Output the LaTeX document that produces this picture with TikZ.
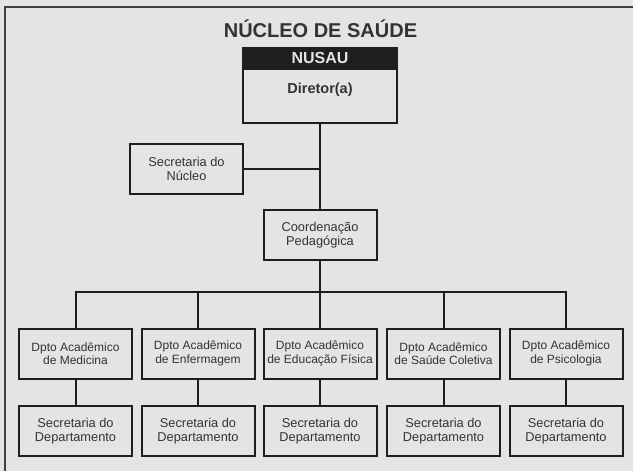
\documentclass[tikz,border=0pt]{standalone}
\usepackage{fontspec}
\setmainfont{Liberation Sans}
\usepackage[svgnames]{xcolor}
\usepackage{tikz}
\usetikzlibrary{arrows}
\pgfdeclarelayer{bglayer}
\pgfdeclarelayer{edgelayer}
\pgfdeclarelayer{nodelayer}
\pgfsetlayers{bglayer,edgelayer,nodelayer,main}
\definecolor{paper}{HTML}{E4E4E4}
\definecolor{ink}{HTML}{1E1E1E}
\definecolor{letter}{HTML}{333333}
\tikzset{
	box/.style={rectangle, draw=ink, line width=2pt, fill=paper, text=letter, align=center, inner sep=2pt,
		minimum width=113pt, minimum height=50pt, font=\fontsize{12.8}{14}\selectfont},
	dept/.style={box, font=\fontsize{12}{13.3}\selectfont},
	chief/.style={box, minimum width=154pt, minimum height=75pt},
	band/.style={chief, fill=ink, text=paper, minimum height=21pt, font=\fontsize{16}{18}\selectfont\bfseries},
	caption/.style={text=letter, inner sep=0pt, font=\fontsize{20}{24}\selectfont\bfseries},
	wire/.style={draw=ink, line width=2pt},
	frame/.style={draw=ink!85, line width=1.6pt},
}

\begin{document}
\begin{tikzpicture}[x=10pt, y=10pt]
	\useasboundingbox (0, 0) rectangle (63.3, -47.1);
	\begin{pgfonlayer}{bglayer}
		\fill [paper] (0, 0) rectangle (63.3, -47.1);
		\draw [style=frame] (0.5, -47.1) -- (0.5, -0.73) -- (63.3, -0.73);
	\end{pgfonlayer}
	\begin{pgfonlayer}{nodelayer}
		\node [style=caption, anchor=base] (0) at (32.05, -3.73) {NÚCLEO DE SAÚDE};
		\node [style=chief] (1) at (32.0, -8.55) {};
		\node [style=band] (2) at (32.0, -5.8) {NUSAU};
		\node [text=letter, font=\fontsize{14.5}{16}\selectfont\bfseries] (3) at (32.0, -9.0) {Diretor(a)};
		\node [style=box] (4) at (18.65, -16.85) {Secretaria do\\Núcleo};
		\node [style=box] (5) at (32.0, -23.5) {Coordenação\\Pedagógica};
		\node [style=dept] (6) at (7.55, -35.35) {Dpto Acadêmico\\de Medicina};
		\node [style=dept] (7) at (19.8, -35.35) {Dpto Acadêmico\\de Enfermagem};
		\node [style=dept] (8) at (32.0, -35.35) {Dpto Acadêmico\\de Educação Física};
		\node [style=dept] (9) at (44.35, -35.35) {Dpto Acadêmico\\de Saúde Coletiva};
		\node [style=dept] (10) at (56.6, -35.35) {Dpto Acadêmico\\de Psicologia};
		\node [style=box] (11) at (7.55, -43.1) {Secretaria do\\Departamento};
		\node [style=box] (12) at (19.8, -43.1) {Secretaria do\\Departamento};
		\node [style=box] (13) at (32.0, -43.1) {Secretaria do\\Departamento};
		\node [style=box] (14) at (44.35, -43.1) {Secretaria do\\Departamento};
		\node [style=box] (15) at (56.6, -43.1) {Secretaria do\\Departamento};
		\coordinate (16) at (32.0, -16.85);
		\coordinate (17) at (7.55, -29.2);
		\coordinate (18) at (19.8, -29.2);
		\coordinate (19) at (32.0, -29.2);
		\coordinate (20) at (44.35, -29.2);
		\coordinate (21) at (56.6, -29.2);
	\end{pgfonlayer}
	\begin{pgfonlayer}{edgelayer}
		\draw [style=wire] (1) to (5);
		\draw [style=wire] (4) to (16);
		\draw [style=wire] (5) to (19);
		\draw [style=wire] (6) to (17) to (21) to (10);
		\draw [style=wire] (18) to (7);
		\draw [style=wire] (19) to (8);
		\draw [style=wire] (20) to (9);
		\draw [style=wire] (6) to (11);
		\draw [style=wire] (7) to (12);
		\draw [style=wire] (8) to (13);
		\draw [style=wire] (9) to (14);
		\draw [style=wire] (10) to (15);
	\end{pgfonlayer}
\end{tikzpicture}
\end{document}
